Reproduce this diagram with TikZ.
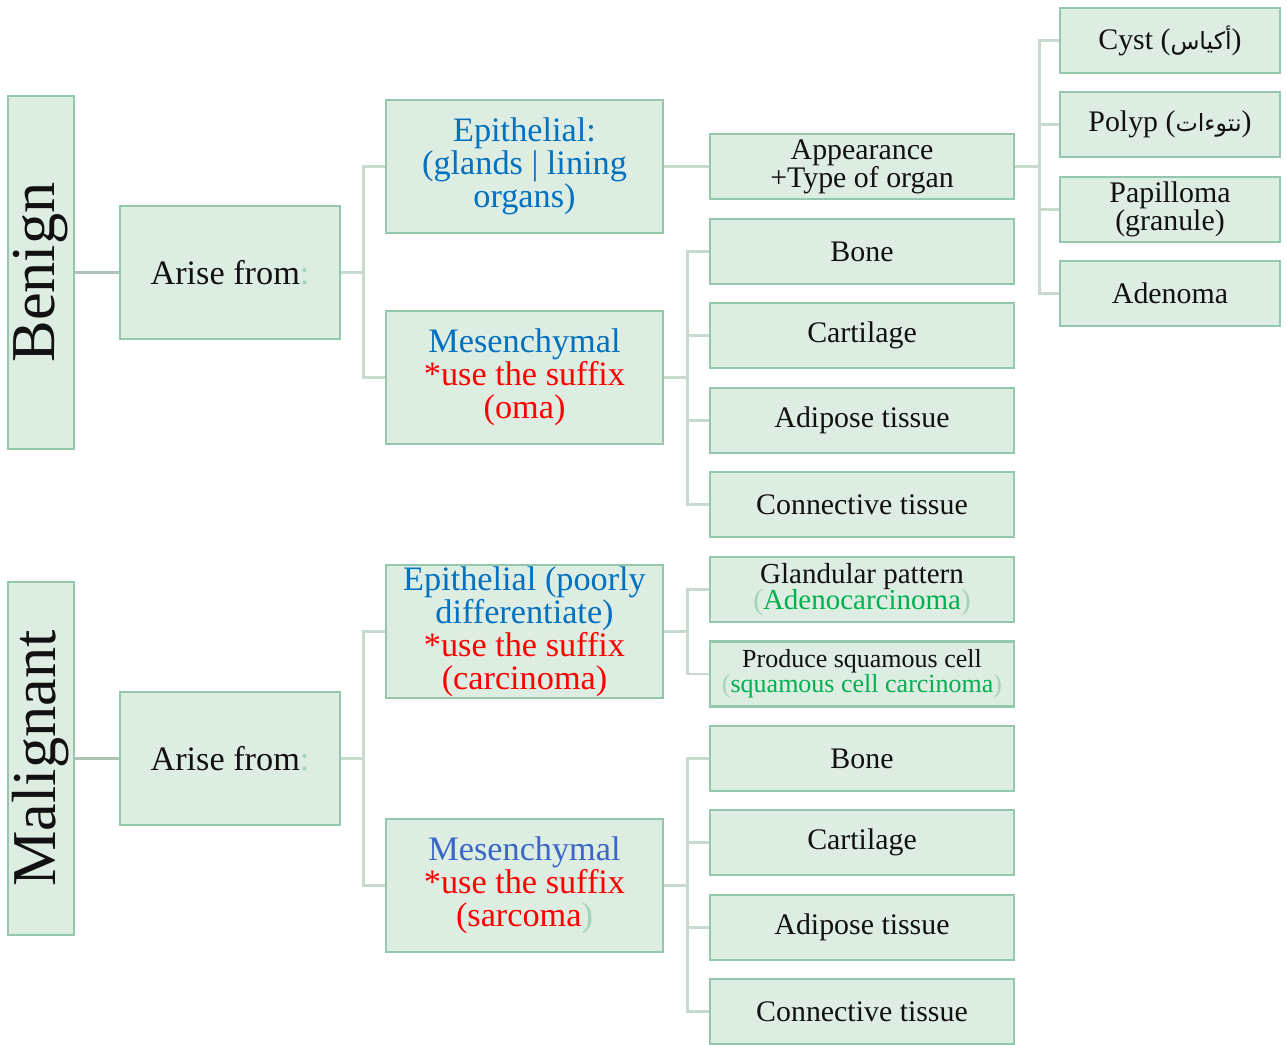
\documentclass[tikz,border=0pt]{standalone}
\usepackage{fontspec}
\setmainfont{Liberation Serif}
\newfontfamily\arabicfont[Script=Arabic]{DejaVu Sans}
\TeXXeTstate=1
\usepackage{tikz}
\usetikzlibrary{positioning}
\definecolor{tumorFill}{HTML}{DEEDE1}
\definecolor{tumorEdge}{HTML}{93C7AE}
\definecolor{tumorLink}{HTML}{C8DACD}
\definecolor{tumorStem}{HTML}{AEC3B5}
\definecolor{tumorInk}{HTML}{111111}
\definecolor{tumorBlue}{HTML}{0070C0}
\definecolor{tumorBlueAlt}{HTML}{3A66C8}
\definecolor{tumorRed}{HTML}{FF0000}
\definecolor{tumorGreen}{HTML}{00B050}
\definecolor{tumorPale}{HTML}{A3D2BC}

\begin{document}
\begin{tikzpicture}[x=0.02cm,y=-0.02cm,
  box/.style={draw=tumorEdge,fill=tumorFill,line width=1.6pt,inner sep=1pt,align=center,text=tumorInk},
  side/.style={box,rotate=90,minimum width=7.06cm,minimum height=1.32cm,font=\fontsize{35.5}{36}\selectfont},
  rootbox/.style={box,minimum width=4.4cm,minimum height=2.66cm,font=\fontsize{19.5}{19}\selectfont},
  midbox/.style={box,minimum width=5.54cm,minimum height=2.66cm,font=\fontsize{19.5}{18.7}\selectfont},
  leaf/.style={box,minimum width=6.08cm,minimum height=1.3cm,font=\fontsize{17}{16}\selectfont},
  farleaf/.style={box,minimum width=4.4cm,minimum height=1.3cm,font=\fontsize{17}{16}\selectfont},
  link/.style={draw=tumorLink,line width=1.3pt},
  stem/.style={draw=tumorStem,line width=1.3pt}
]
  \useasboundingbox (0,0) rectangle (1287,1044);
  % benign branch
  \node[side] (benign) at (41,272.5) {Benign};
  \node[rootbox] (arise1) at (230,272.5) {Arise from\textcolor{tumorPale}{:}};
  \node[midbox,text=tumorBlue] (epi1) at (524.5,166.5) {Epithelial:\\(glands | lining\\organs)};
  \node[midbox] (mes1) at (524.5,377.5) {\textcolor{tumorBlue}{Mesenchymal}\\\textcolor{tumorRed}{*use the suffix}\\\textcolor{tumorRed}{(oma)}};
  \node[leaf] (look1) at (862,166.5) {Appearance\\+Type of organ};
  \node[leaf] (bone1) at (862,251.5) {Bone};
  \node[leaf] (cart1) at (862,335.5) {Cartilage};
  \node[leaf] (adip1) at (862,420.5) {Adipose tissue};
  \node[leaf] (conn1) at (862,504.5) {Connective tissue};
  \node[farleaf] (cyst) at (1170,40.5) {Cyst ({\arabicfont\fontsize{13.5}{16}\selectfont\beginR أكياس\endR})};
  \node[farleaf] (polyp) at (1170,124.5) {Polyp ({\arabicfont\fontsize{13.5}{16}\selectfont\beginR نتوءات\endR})};
  \node[farleaf] (papil) at (1170,209.5) {Papilloma\\(granule)};
  \node[farleaf] (adeno) at (1170,293.5) {Adenoma};
  % malignant branch
  \node[side] (malig) at (41,758.5) {Malignant};
  \node[rootbox] (arise2) at (230,758.5) {Arise from\textcolor{tumorPale}{:}};
  \node[midbox] (epi2) at (524.5,631.5) {\textcolor{tumorBlue}{Epithelial (poorly}\\\textcolor{tumorBlue}{differentiate)}\\\textcolor{tumorRed}{*use the suffix}\\\textcolor{tumorRed}{(carcinoma)}};
  \node[midbox] (mes2) at (524.5,885.5) {\textcolor{tumorBlueAlt}{Mesenchymal}\\\textcolor{tumorRed}{*use the suffix}\\\textcolor{tumorRed}{(sarcoma}\textcolor{tumorPale}{)}};
  \node[leaf,font=\fontsize{16.5}{15.3}\selectfont] (gland) at (862,589.5) {Glandular pattern\\\textcolor{tumorPale}{(}\textcolor{tumorGreen}{Adenocarcinoma}\textcolor{tumorPale}{)}};
  \node[leaf,font=\fontsize{14.8}{14.2}\selectfont] (squam) at (862,674) {Produce squamous cell\\\textcolor{tumorPale}{(}\textcolor{tumorGreen}{squamous cell carcinoma}\textcolor{tumorPale}{)}};
  \node[leaf] (bone2) at (862,758.5) {Bone};
  \node[leaf] (cart2) at (862,842.5) {Cartilage};
  \node[leaf] (adip2) at (862,927.5) {Adipose tissue};
  \node[leaf] (conn2) at (862,1011.5) {Connective tissue};
  % connectors
  \draw[stem] (benign.south) -- (arise1.west);
  \draw[stem] (malig.south) -- (arise2.west);
  \foreach \c in {epi1,mes1} \draw[link] (arise1.east) -- ++(22,0) |- (\c.west);
  \foreach \c in {epi2,mes2} \draw[link] (arise2.east) -- ++(22,0) |- (\c.west);
  \draw[link] (epi1.east) -- (look1.west);
  \foreach \c in {bone1,cart1,adip1,conn1} \draw[link] (mes1.east) -- ++(23,0) |- (\c.west);
  \foreach \c in {cyst,polyp,papil,adeno} \draw[link] (look1.east) -- ++(24,0) |- (\c.west);
  \foreach \c in {gland,squam} \draw[link] (epi2.east) -- ++(23,0) |- (\c.west);
  \foreach \c in {bone2,cart2,adip2,conn2} \draw[link] (mes2.east) -- ++(23,0) |- (\c.west);
\end{tikzpicture}
\end{document}
